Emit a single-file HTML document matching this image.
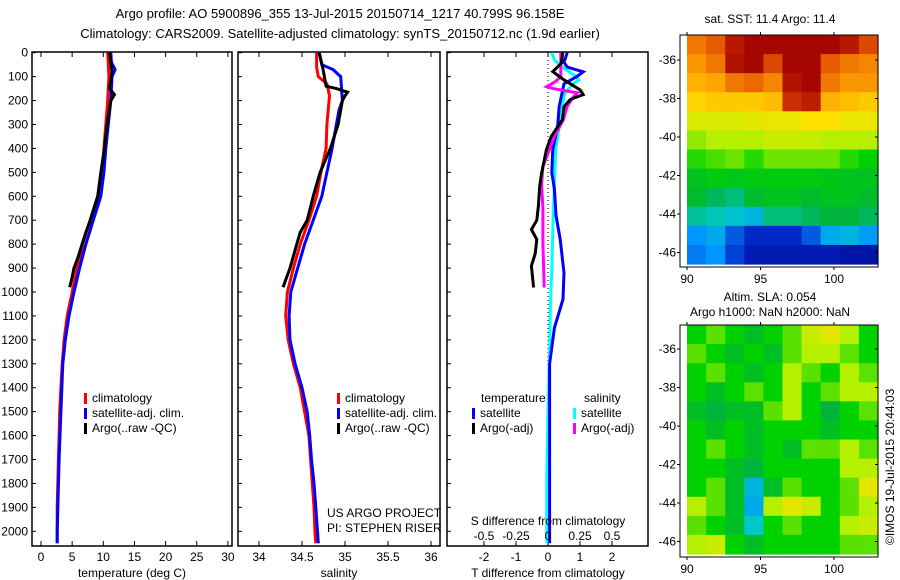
<!DOCTYPE html>
<html><head><meta charset="utf-8"><style>
body{margin:0;background:#fff;}
svg{display:block;font-family:"Liberation Sans",sans-serif;}
</style></head><body>
<svg id="fig" width="900" height="580" viewBox="0 0 900 580">
<text x="340" y="18" font-size="13" text-anchor="middle">Argo profile: AO 5900896_355 13-Jul-2015 20150714_1217 40.799S 96.158E</text>
<text x="340" y="38" font-size="13" text-anchor="middle">Climatology: CARS2009. Satellite-adjusted climatology: synTS_20150712.nc (1.9d earlier)</text>
<g id="p1"></g>
<g id="p2"></g>
<g id="p3"></g>
<g id="m1"></g>
<g id="m2"></g>
<text x="770" y="23" font-size="12" text-anchor="middle">sat. SST: 11.4 Argo: 11.4</text>
<text x="770" y="301" font-size="12" text-anchor="middle">Altim. SLA: 0.054</text>
<text x="770" y="316" font-size="12" text-anchor="middle">Argo h1000: NaN h2000: NaN</text>
<text transform="translate(894,545) rotate(-90)" font-size="12">©IMOS 19-Jul-2015 20:44:03</text>
</svg>
<script>
// ---- data ----
const tClimDepth=[0,100,200,300,400,500,600,700,800,900,1000,1100,1200,1300,1400,1500,1600,1700,1800,1900,2000,2050];
const tClimVal=[10.7,10.9,10.7,10.4,10.1,9.8,9.1,7.9,6.7,5.8,5.0,4.2,3.7,3.4,3.2,3.0,2.9,2.8,2.7,2.6,2.6,2.6];
const tSatDepth=[0,40,70,100,200,300,400,500,600,700,800,900,1000,1100,1200,1300,1500,1700,2000,2050];
const tSatVal=[11.2,11.3,11.9,11.4,11.2,10.8,10.4,10.1,9.6,8.4,7.2,6.2,5.3,4.5,3.9,3.5,3.2,2.9,2.6,2.6];
const tArgoDepth=[0,80,150,175,200,300,400,500,600,700,750,800,850,900,950,980];
const tArgoVal=[11.0,11.4,11.0,11.8,11.2,10.6,10.2,9.6,9.1,7.9,7.2,6.6,6.0,5.3,4.9,4.6];
const sClimDepth=[0,60,100,130,180,300,400,500,600,700,800,900,1000,1100,1200,1300,1400,1500,1600,1700,1800,1900,2000,2050];
const sClimVal=[34.67,34.67,34.69,34.79,34.82,34.79,34.78,34.72,34.67,34.58,34.48,34.40,34.33,34.31,34.34,34.40,34.48,34.53,34.58,34.60,34.62,34.64,34.65,34.66];
const sSatDepth=[0,50,70,100,200,240,300,400,500,600,700,800,900,1000,1100,1200,1300,1400,1500,1600,1700,1800,1900,2000,2050];
const sSatVal=[34.70,34.73,34.86,34.95,34.97,34.93,34.90,34.85,34.79,34.73,34.63,34.53,34.45,34.37,34.35,34.36,34.42,34.50,34.56,34.59,34.61,34.64,34.66,34.68,34.69];
const sArgoDepth=[0,60,100,140,150,165,180,200,300,400,500,600,700,750,800,900,960,980];
const sArgoVal=[34.70,34.74,34.76,34.78,34.90,35.03,35.00,34.97,34.92,34.83,34.71,34.63,34.56,34.48,34.44,34.36,34.30,34.28];
const dtSatDepth=[0,40,60,80,100,130,225,310,405,500,570,680,780,920,1030,1150,1300,1500,2050];
const dtSatVal=[0.6,0.5,0.6,1.1,0.9,0.5,0.35,0.3,0.15,0.12,0.2,0.25,0.38,0.5,0.47,0.2,0.05,0.05,0.05];
const dtArgoDepth=[0,44,79,110,155,175,195,225,280,350,405,503,558,641,700,739,780,840,891,981];
const dtArgoVal=[0.46,0.42,0.15,0.46,1.0,1.1,0.7,0.5,0.45,0.1,-0.05,-0.2,-0.26,-0.3,-0.35,-0.52,-0.35,-0.4,-0.52,-0.45];
const dsSatDepth=[0,30,55,100,115,128,170,225,300,405,550,700,900,1030,1300,1500,1800,2050];
const dsSatVal=[0.03,0.05,0.1,0.22,0.24,0.2,0.13,0.11,0.09,0.06,0.05,0.04,0.03,0.02,0.01,0.0,-0.01,-0.01];
const dsArgoDepth=[0,44,100,120,142,150,168,190,225,280,350,420,475,550,650,800,981];
const dsArgoVal=[0.1,0.1,0.1,0.06,-0.01,0.04,0.23,0.19,0.15,0.12,0.05,0.0,-0.04,-0.05,-0.04,-0.04,-0.03];
const depthTicks=[0,100,200,300,400,500,600,700,800,900,1000,1100,1200,1300,1400,1500,1600,1700,1800,1900,2000];
const tTicks=[0,5,10,15,20,25,30];
const sTicks=[34,34.5,35,35.5,36];
const dtTicks=[-2,-1,0,1,2];
const dsTickLabels=['-0.5','-0.25','0','0.25','0.5'];
const latTicks=[-36,-38,-40,-42,-44,-46];
const lonTicks=[90,95,100];
const sstGrid=[
[.84,.88,.96,.99,.99,.99,.99,.99,.96,.90],
[.80,.84,.97,.99,.90,.99,.99,.88,.84,.82],
[.76,.78,.84,.86,.82,.97,.99,.84,.80,.80],
[.70,.72,.72,.72,.74,.93,.95,.76,.74,.72],
[.64,.64,.64,.65,.66,.66,.68,.68,.66,.66],
[.58,.60,.60,.60,.62,.62,.62,.60,.60,.60],
[.52,.54,.56,.52,.56,.56,.56,.56,.52,.50],
[.46,.48,.47,.48,.48,.48,.48,.47,.46,.46],
[.44,.40,.38,.44,.46,.46,.44,.46,.46,.44],
[.36,.34,.32,.30,.38,.38,.40,.42,.42,.40],
[.25,.28,.18,.12,.12,.12,.18,.28,.30,.26],
[.22,.25,.15,.08,.08,.08,.08,.08,.06,.06]];
const slaGrid=[
[.50,.55,.50,.45,.50,.55,.62,.65,.60,.50],
[.55,.50,.45,.50,.45,.55,.60,.60,.55,.50],
[.50,.55,.50,.45,.50,.60,.55,.50,.60,.55],
[.50,.45,.50,.55,.50,.60,.50,.55,.60,.60],
[.45,.42,.45,.45,.55,.60,.50,.42,.50,.55],
[.50,.45,.50,.45,.50,.50,.50,.45,.50,.50],
[.50,.55,.50,.45,.50,.45,.55,.55,.60,.55],
[.50,.50,.45,.42,.50,.50,.50,.50,.60,.60],
[.50,.55,.45,.30,.45,.55,.50,.50,.55,.65],
[.60,.55,.45,.28,.60,.65,.62,.50,.55,.60],
[.55,.50,.45,.33,.50,.55,.50,.50,.60,.62],
[.60,.62,.50,.45,.50,.50,.50,.50,.55,.55]];

const NS='http://www.w3.org/2000/svg';
function mk(parent,tag,attrs,text){const e=document.createElementNS(NS,tag);for(const k in attrs)e.setAttribute(k,attrs[k]);if(text!==undefined)e.textContent=text;parent.appendChild(e);return e;}
const y0=52.7, yTop=52, yBot=546;
const yD=d=>y0+d*0.2393;
const xT=v=>41+6.23*v;
const xS=v=>259+86*(v-34);
const xDT=v=>548+32*v;
const xDS=v=>548+128*v;

function frame(g,x1,x2,name){
  const r=mk(g,'rect',{x:x1,y:yTop,width:x2-x1,height:yBot-yTop,fill:'none',stroke:'#000','stroke-width':1.5});
  
  
  depthTicks.forEach(d=>{mk(g,'line',{x1:x1,x2:x1+4,y1:yD(d),y2:yD(d),stroke:'#000'});});
}
function line(g,xs,ds,xf,color,name,w){
  const pts=xs.map((v,i)=>xf(v).toFixed(1)+','+yD(ds[i]).toFixed(1)).join(' ');
  const p=mk(g,'polyline',{points:pts,fill:'none',stroke:color,'stroke-width':w||3,'stroke-linejoin':'miter'});
  
  
}
function xticks(g,ticks,labels,xf,yl){
  ticks.forEach((t,i)=>{const x=xf(t);
    mk(g,'line',{x1:x,x2:x,y1:yTop,y2:yTop+5,stroke:'#000'});
    mk(g,'line',{x1:x,x2:x,y1:yBot,y2:yBot-5,stroke:'#000'});
    const l=mk(g,'text',{x:x,y:yl,'font-size':12,'text-anchor':'middle'},labels[i]);
    
    
  });
}
function legend(g,x,y,items){
  items.forEach((it,i)=>{
    mk(g,'rect',{x:x,y:y+i*15-9,width:3,height:11,fill:it[0]});
    const t=mk(g,'text',{x:x+8,y:y+i*15,'font-size':12},it[1]);
    
    
  });
}
// Panel 1
const g1=document.getElementById('p1');
frame(g1,32,232,'temperature');
depthTicks.forEach(d=>{const t=mk(g1,'text',{x:28,y:yD(d)+4,'font-size':12,'text-anchor':'end'},String(d));
  
  });
xticks(g1,tTicks,tTicks.map(String),xT,561);
let at=mk(g1,'text',{x:132,y:577,'font-size':12,'text-anchor':'middle'},'temperature (deg C)');


line(g1,tClimVal,tClimDepth,xT,'#f00','temp-climatology-line');
line(g1,tSatVal,tSatDepth,xT,'#00f','temp-satellite-line');
line(g1,tArgoVal,tArgoDepth,xT,'#000','temp-argo-line');
legend(g1,84,402,[['#f00','climatology'],['#00f','satellite-adj. clim.'],['#000','Argo(..raw -QC)']]);
// Panel 2
const g2=document.getElementById('p2');
frame(g2,238,440,'salinity');
xticks(g2,sTicks,sTicks.map(String),xS,561);
at=mk(g2,'text',{x:339,y:577,'font-size':12,'text-anchor':'middle'},'salinity');


line(g2,sClimVal,sClimDepth,xS,'#f00','sal-climatology-line');
line(g2,sSatVal,sSatDepth,xS,'#00f','sal-satellite-line');
line(g2,sArgoVal,sArgoDepth,xS,'#000','sal-argo-line');
legend(g2,337,402,[['#f00','climatology'],['#00f','satellite-adj. clim.'],['#000','Argo(..raw -QC)']]);
mk(g2,'text',{x:327,y:517,'font-size':12},'US ARGO PROJECT');
mk(g2,'text',{x:327,y:532,'font-size':12},'PI: STEPHEN RISER');
// Panel 3
const g3=document.getElementById('p3');
frame(g3,447,648,'difference');
xticks(g3,dtTicks,dtTicks.map(String),xDT,561);
mk(g3,'line',{x1:548,x2:548,y1:yTop,y2:yBot,stroke:'#000','stroke-dasharray':'1,3'});
line(g3,dsSatVal,dsSatDepth,xDS,'#0ff','sdiff-satellite-line');
line(g3,dtSatVal,dtSatDepth,xDT,'#00f','tdiff-satellite-line');
line(g3,dsArgoVal,dsArgoDepth,xDS,'#f0f','sdiff-argo-line');
line(g3,dtArgoVal,dtArgoDepth,xDT,'#000','tdiff-argo-line');
mk(g3,'text',{x:481,y:402,'font-size':12},'temperature');
mk(g3,'text',{x:584,y:402,'font-size':12},'salinity');
legend(g3,472,417,[['#00f','satellite'],['#000','Argo(-adj)']]);
legend(g3,573,417,[['#0ff','satellite'],['#f0f','Argo(-adj)']]);
mk(g3,'text',{x:548,y:525,'font-size':12,'text-anchor':'middle'},'S difference from climatology');
dtTicks.forEach((t,i)=>{mk(g3,'text',{x:xDT(t),y:540,'font-size':12,'text-anchor':'middle'},dsTickLabels[i]);});
at=mk(g3,'text',{x:548,y:577,'font-size':12,'text-anchor':'middle'},'T difference from climatology');



// Maps
const cmStops=[[0,0,0,130],[.12,0,40,200],[.25,0,150,255],[.33,0,200,200],[.42,0,180,60],[.5,0,210,0],[.6,180,240,0],[.68,255,225,0],[.78,255,165,0],[.88,230,90,0],[.95,190,30,0],[1,160,0,0]];
function cmap(v){
  v=Math.max(0,Math.min(1,v));
  for(let i=1;i<cmStops.length;i++){
    const a=cmStops[i-1],b=cmStops[i];
    if(v<=b[0]){const t=(v-a[0])/(b[0]-a[0]);
      return 'rgb('+[1,2,3].map(k=>Math.round(a[k]+(b[k]-a[k])*t)).join(',')+')';}
  }
  return 'rgb(160,0,0)';
}
function map(g,grid,bx1,by1,bx2,by2,lat36y,name){
  const lonX=l=>687+(l-90)*14.7;
  const latY=l=>lat36y+(-36-l)*19.25;
  mk(g,'rect',{x:bx1,y:by1,width:bx2-bx1,height:by2-by1,fill:'#fff',stroke:'#000'});
  const ix1=687, ix2=bx2, iy1=by1, iy2=by2-3;
  const rows=grid.length, cols=grid[0].length;
  const cw=(ix2-ix1)/cols, ch=(iy2-iy1)/rows;
  grid.forEach((row,r)=>row.forEach((v,c)=>{
    const cell=mk(g,'rect',{x:(ix1+c*cw).toFixed(2),y:(iy1+r*ch).toFixed(2),width:(cw+0.6).toFixed(2),height:(ch+0.6).toFixed(2),fill:cmap(v)});
    
    
  }));
  mk(g,'rect',{x:bx1,y:by1,width:bx2-bx1,height:by2-by1,fill:'none',stroke:'#000'});
  latTicks.forEach(l=>{const y=latY(l);
    mk(g,'line',{x1:bx1-3,x2:bx1,y1:y,y2:y,stroke:'#000'});
    mk(g,'line',{x1:bx2-3,x2:bx2,y1:y,y2:y,stroke:'#000'});
    const t=mk(g,'text',{x:bx1-4,y:y+4,'font-size':12,'text-anchor':'end'},String(l));
    
    });
  lonTicks.forEach(l=>{const x=lonX(l);
    mk(g,'line',{x1:x,x2:x,y1:by2,y2:by2+3,stroke:'#000'});
    mk(g,'line',{x1:x,x2:x,y1:by1,y2:by1-3,stroke:'#000'});
    const t=mk(g,'text',{x:x,y:by2+16,'font-size':12,'text-anchor':'middle'},String(l));
    
    });
}
map(document.getElementById('m1'),sstGrid,680,35,878,267,60,'sst');
map(document.getElementById('m2'),slaGrid,680,325,878,557,349,'sla');
</script>
</body></html>
